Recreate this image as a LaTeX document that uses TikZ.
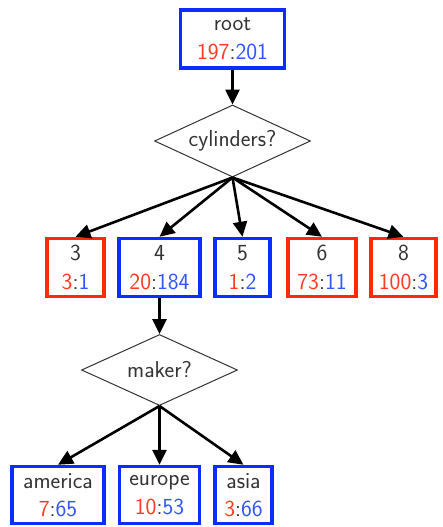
\documentclass[tikz,border=0pt]{standalone}
\usepackage{fontspec}
\usetikzlibrary{shapes.geometric,arrows.meta}
\definecolor{bred}{HTML}{FF2A00}
\definecolor{bblue}{HTML}{0A2EFF}
\definecolor{nred}{HTML}{FF3B24}
\definecolor{nblue}{HTML}{3355FF}
\definecolor{tgray}{HTML}{333333}
\newcommand{\rb}[3]{#1\\\textcolor{nred}{#2}:\textcolor{nblue}{#3}}
\begin{document}
\begin{tikzpicture}[x=1pt,y=-1pt,
  font=\sffamily\fontsize{23}{28.5}\selectfont, text=tgray,
  leaf/.style={draw, line width=3.5pt, rectangle, align=center, inner sep=0pt, minimum height=58pt},
  redleaf/.style={leaf, draw=bred},
  blueleaf/.style={leaf, draw=bblue},
  test/.style={draw=tgray, line width=1pt, diamond, aspect=2.17, inner sep=0pt, minimum width=156pt, minimum height=72pt},
  arr/.style={line width=2.6pt, -{Triangle[length=15pt,width=14pt]}}]
\useasboundingbox (0,0) rectangle (442,527);
\node[blueleaf, minimum width=104pt] (root) at (232.5,39) {\rb{root}{197}{201}};
\node[test] (cyl) at (232.5,141) {cylinders?};
\node[redleaf, minimum width=57pt] (c3) at (75.5,267.5) {\rb{3}{3}{1}};
\node[blueleaf, minimum width=81pt] (c4) at (159.5,267.5) {\rb{4}{20}{184}};
\node[blueleaf, minimum width=55pt] (c5) at (242.5,267.5) {\rb{5}{1}{2}};
\node[redleaf, minimum width=68pt] (c6) at (322,267.5) {\rb{6}{73}{11}};
\node[redleaf, minimum width=65pt] (c8) at (403.5,267.5) {\rb{8}{100}{3}};
\node[test, minimum height=71pt] (mk) at (159.5,370) {maker?};
\node[blueleaf, minimum width=92pt, minimum height=57pt] (am) at (58,495) {\rb{america}{7}{65}};
\node[blueleaf, minimum width=80pt, minimum height=57pt] (eu) at (159.5,495) {\rb{europe}{10}{53}};
\node[blueleaf, minimum width=57pt, minimum height=57pt] (as) at (243.5,495) {\rb{asia}{3}{66}};
\draw[arr] (root.south) -- (cyl.north);
\foreach \t in {c3,c4,c5,c6,c8} \draw[arr] (cyl.south) -- (\t.north);
\draw[arr] (c4.south) -- (mk.north);
\foreach \t in {am,eu,as} \draw[arr] (mk.south) -- (\t.north);
\end{tikzpicture}
\end{document}
